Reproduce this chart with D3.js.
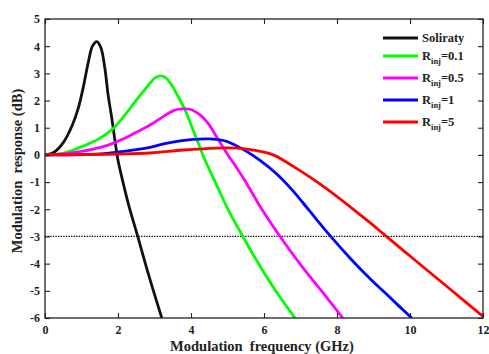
<!DOCTYPE html>
<html>
<head>
<meta charset="utf-8">
<script src="https://cdn.jsdelivr.net/npm/d3@7"></script>
<style>
  body { margin: 0; background: #fff; }
  svg { display: block; }
  text { font-family: "Liberation Serif", "Times New Roman", serif; font-weight: bold; }
</style>
</head>
<body>
<svg id="chart" width="489" height="354"></svg>
<script>
// Modulation response (dB) versus modulation frequency (GHz), [f, dB] pairs
const solitary = [[0,0],[0.25,0.1],[0.5,0.45],[0.75,1.1],[0.91,1.71],[1.05,2.5],[1.19,3.43],[1.3,4.0],[1.42,4.17],
  [1.53,3.95],[1.64,3.19],[1.73,2.2],[1.83,1.35],[1.92,0.49],[2.0,-0.2],[2.1,-0.8],[2.28,-1.78],[2.54,-3],[2.88,-4.6],[3.2,-6]];
const rinj01 = [[0,0],[0.5,0.06],[0.91,0.25],[1.23,0.43],[1.46,0.58],[1.92,1.04],[2.47,1.96],[2.88,2.64],[3.0,2.82],[3.12,2.9],
  [3.22,2.9],[3.34,2.8],[3.47,2.57],[3.65,2.14],[3.84,1.65],[4.02,1.04],[4.2,0.43],[4.38,-0.18],[4.63,-0.9],[5.02,-2.02],[5.42,-3.0],
  [5.84,-3.98],[6.3,-4.96],[6.85,-6]];
const rinj05 = [[0,0],[0.5,0.04],[0.96,0.12],[1.35,0.22],[1.75,0.37],[2.2,0.62],[2.6,0.9],[2.88,1.1],[3.24,1.41],[3.52,1.63],
  [3.75,1.69],[3.97,1.68],[4.25,1.47],[4.47,1.16],[4.7,0.67],[4.98,0.06],[5.25,-0.47],[5.48,-0.95],[5.62,-1.27],[5.92,-1.95],
  [6.44,-3.0],[6.97,-3.98],[7.62,-5.08],[8.16,-6]];
const rinj1 = [[0,0],[1,0.01],[1.69,0.06],[2.6,0.21],[2.88,0.28],[3.42,0.45],[4.06,0.57],[4.5,0.59],[4.89,0.53],[5.1,0.43],
  [5.52,0.13],[5.89,-0.2],[6.35,-0.7],[6.8,-1.33],[7.26,-2.08],[7.81,-2.97],[8.36,-3.8],[8.9,-4.55],[9.36,-5.13],[9.73,-5.6],[10.05,-6]];
const rinj5 = [[0,0],[1,0.01],[2,0.03],[2.88,0.07],[3.79,0.18],[4.7,0.25],[5.25,0.25],[5.71,0.18],[6.25,0],[6.8,-0.42],
  [7.26,-0.82],[7.72,-1.25],[8.17,-1.71],[8.63,-2.2],[9.09,-2.7],[9.32,-2.96],[9.73,-3.42],[10.0,-3.72],[10.73,-4.53],
  [11.37,-5.24],[12,-5.94]];

const seriesData = [solitary, rinj01, rinj05, rinj1, rinj5];
const seriesColors = ["#111111", "#00ff00", "#ff00ff", "#0000ff", "#ff0000"];
const legendMain = ["Soliraty", "R", "R", "R", "R"];
const legendSub = ["", "inj", "inj", "inj", "inj"];
const legendTail = ["", "=0.1", "=0.5", "=1", "=5"];

const xTicks = [0, 2, 4, 6, 8, 10, 12];
const xTickLabels = ["0", "2", "4", "6", "8", "10", "12"];
const yTicks = [5, 4, 3, 2, 1, 0, -1, -2, -3, -4, -5, -6];
const yTickLabels = ["5", "4", "3", "2", "1", "0", "-1", "-2", "-3", "-4", "-5", "-6"];
const cutoffLevel = [-3];

const xLabel = "Modulation\u00a0 frequency (GHz)";
const yLabel = "Modulation\u00a0 response (dB)";

const svg = d3.select("#chart");
const plotL = 45, plotR = 483, plotT = 19, plotB = 318;

const x = d3.scaleLinear().domain([0, 12]).range([plotL, plotR]);
const y = d3.scaleLinear().domain([-6, 5]).range([plotB, plotT]);

svg.append("defs").append("clipPath").attr("id", "plotClip")
  .append("rect").attr("x", plotL).attr("y", plotT).attr("width", plotR - plotL).attr("height", plotB - plotT);

// -3 dB reference line
svg.append("g").selectAll("line").data(cutoffLevel).join("line")
  .attr("x1", x(0)).attr("x2", x(12))
  .attr("y1", d => y(d)).attr("y2", d => y(d))
  .attr("stroke", "#000").attr("stroke-width", 1.3).attr("stroke-dasharray", "1.3,1.3");

// response curves
const line = d3.line().x(d => x(d[0])).y(d => y(d[1])).curve(d3.curveCatmullRom.alpha(0.5));
svg.append("g").attr("clip-path", "url(#plotClip)")
  .selectAll("path").data(seriesData).join("path")
  .attr("d", line)
  .attr("fill", "none")
  .attr("stroke", (d, i) => seriesColors[i])
  .attr("stroke-width", 2.8)
  .attr("stroke-linejoin", "round");

// axes with inward ticks on all four sides
function styleAxis(g) {
  g.select(".domain").remove();
  g.selectAll(".tick line").attr("stroke", "#222").attr("stroke-width", 1.1);
  g.selectAll("text").attr("fill", "#222").style("font-size", "12px")
    .style("font-family", '"Liberation Serif", "Times New Roman", serif').style("font-weight", "bold");
}
svg.append("g").attr("transform", `translate(0,${plotB})`)
  .call(d3.axisBottom(x).tickValues(xTicks).tickSize(-5).tickPadding(7)
    .tickFormat((d, i) => xTickLabels[i]))
  .call(styleAxis);
svg.append("g").attr("transform", `translate(0,${plotT})`)
  .call(d3.axisTop(x).tickValues(xTicks).tickSize(-5).tickFormat(""))
  .call(styleAxis);
svg.append("g").attr("transform", `translate(${plotL},0)`)
  .call(d3.axisLeft(y).tickValues(yTicks).tickSize(-5).tickPadding(5)
    .tickFormat((d, i) => yTickLabels[i]))
  .call(styleAxis);
svg.append("g").attr("transform", `translate(${plotR},0)`)
  .call(d3.axisRight(y).tickValues(yTicks).tickSize(-5).tickFormat(""))
  .call(styleAxis);

svg.append("rect")
  .attr("x", plotL).attr("y", plotT).attr("width", plotR - plotL).attr("height", plotB - plotT)
  .attr("fill", "none").attr("stroke", "#222").attr("stroke-width", 1.3);

// axis titles
svg.append("text")
  .attr("x", 262).attr("y", 351)
  .attr("text-anchor", "middle").attr("fill", "#222").style("font-size", "14.5px")
  .text(xLabel);
svg.append("text")
  .attr("transform", `translate(22,171) rotate(-90)`)
  .attr("text-anchor", "middle").attr("fill", "#222").style("font-size", "14.5px")
  .text(yLabel);

// legend
const rowY = i => (i === 0 ? 38 : 56 + 22 * (i - 1));
const legend = svg.append("g");
const rows = legend.selectAll("g").data(seriesData).join("g")
  .attr("transform", (d, i) => `translate(383,${rowY(i)})`);
rows.append("line")
  .attr("x1", 0).attr("x2", 35).attr("y1", 0).attr("y2", 0)
  .attr("stroke", (d, i) => seriesColors[i]).attr("stroke-width", 2.8);
rows.each(function (d, i) {
  const t = d3.select(this).append("text")
    .attr("x", 39).attr("y", 4).attr("fill", "#222").style("font-size", "12.5px");
  t.append("tspan").text(legendMain[i]);
  if (legendSub[i]) {
    t.append("tspan").attr("dy", 4).style("font-size", "8.5px").text(legendSub[i]);
    t.append("tspan").attr("dy", -4).text(legendTail[i]);
  }
});
</script>
</body>
</html>
